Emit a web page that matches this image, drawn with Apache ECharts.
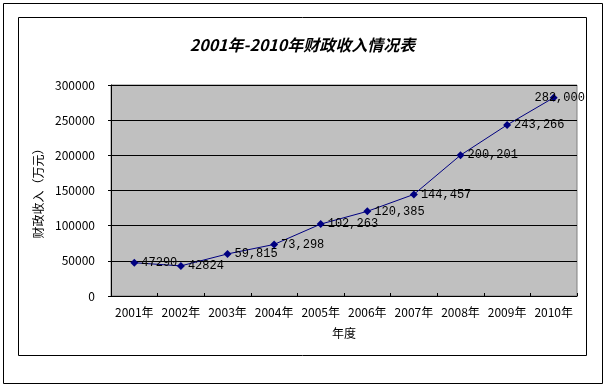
<!DOCTYPE html>
<html><head><meta charset="utf-8">
<script src="https://cdn.jsdelivr.net/npm/echarts@6/dist/echarts.min.js"></script>
<style>html,body{margin:0;padding:0;background:#fff}#c{width:605px;height:386px}</style>
</head><body><div id="c"></div>
<script>
var categories = ['2001年','2002年','2003年','2004年','2005年','2006年','2007年','2008年','2009年','2010年'];
var values = [47290, 42824, 59815, 73298, 102263, 120385, 144457, 200201, 243266, 282000];
var labelTexts = ['47290','42824','59,815','73,298','102,263','120,385','144,457','200,201','243,266','282,000'];
var yTicks = [0, 50000, 100000, 150000, 200000, 250000, 300000];

var chart = echarts.init(document.getElementById('c'), null, {renderer:'canvas'});
var data = values.map(function(v, i){
  var d = {value: v, label: {formatter: labelTexts[i]}};
  if (i === values.length - 1) d.label = {formatter: labelTexts[i], position: 'inside', offset: [6, 0]};
  return d;
});
chart.setOption({
  animation: false,
  backgroundColor: '#fff',
  title: {
    text: '2001年-2010年财政收入情况表',
    left: 'center', top: 32,
    textStyle: {fontFamily: 'Noto Sans CJK SC', fontSize: 16, fontWeight: 'bold', fontStyle: 'italic', color: '#000'}
  },
  graphic: [
    {type:'rect', shape:{x:3.5, y:3.5, width:599, height:380}, style:{fill:'none', stroke:'#000', lineWidth:1}, z:-10},
    {type:'rect', shape:{x:18.5, y:17.5, width:568, height:338}, style:{fill:'none', stroke:'#000', lineWidth:1}, z:-10}
  ],
  grid: {left: 111, top: 85, right: 28, bottom: 90, show: true, backgroundColor: '#C0C0C0', borderColor: '#808080', borderWidth: 1},
  xAxis: {
    type: 'category', data: categories, boundaryGap: true,
    name: '年度', nameLocation: 'middle', nameGap: 31,
    nameTextStyle: {fontFamily: 'Noto Sans CJK SC', fontSize: 12, color: '#000'},
    axisLine: {lineStyle: {color: '#000', width: 1}},
    axisTick: {show: true, inside: true, length: 3, lineStyle: {color: '#000'}},
    axisLabel: {fontFamily: 'Noto Sans CJK SC', fontSize: 12, color: '#000', margin: 10, interval: 0},
    splitLine: {show: false}
  },
  yAxis: {
    type: 'value', min: 0, max: 300000, interval: 50000,
    name: '财政收入（万元）', nameLocation: 'middle', nameGap: 66, nameRotate: 90,
    nameTextStyle: {fontFamily: 'Noto Sans CJK SC', fontSize: 12, color: '#000'},
    axisLine: {show: true, lineStyle: {color: '#000', width: 1}},
    axisTick: {show: true, length: 3, lineStyle: {color: '#000'}},
    axisLabel: {fontFamily: 'Noto Sans CJK SC', fontSize: 12, color: '#000', margin: 16,
      formatter: function(v){ return yTicks.indexOf(v) >= 0 ? String(v) : ''; }},
    splitLine: {show: true, lineStyle: {color: '#000', width: 1}}
  },
  series: [{
    type: 'line', data: data,
    symbol: 'diamond', symbolSize: 8,
    itemStyle: {color: '#000080'},
    lineStyle: {color: '#000080', width: 1},
    label: {show: true, position: 'right', distance: 3, fontFamily: 'Liberation Mono', fontSize: 12, color: '#000'}
  }]
});
</script></body></html>
